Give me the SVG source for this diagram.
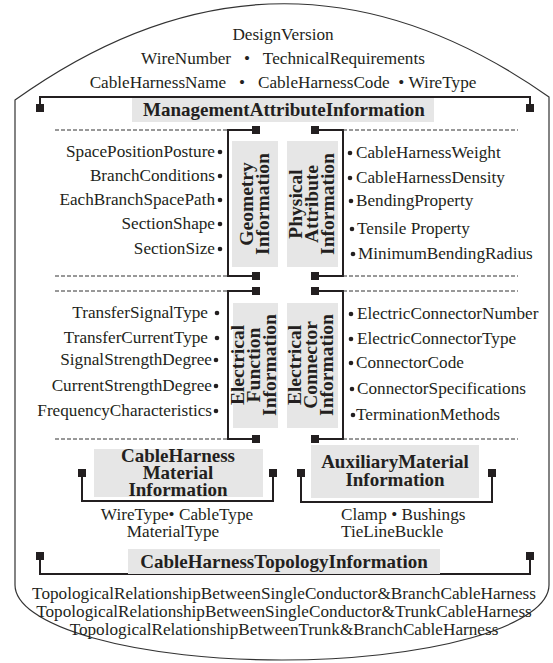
<svg xmlns="http://www.w3.org/2000/svg" width="553" height="663" viewBox="0 0 553 663">
<style>
.t{font-family:"Liberation Serif","Times New Roman",serif;font-size:17.2px;fill:#231f20}
.b{font-family:"Liberation Serif","Times New Roman",serif;font-size:19px;font-weight:bold;fill:#231f20}
.v{font-family:"Liberation Serif","Times New Roman",serif;font-size:19.5px;font-weight:bold;fill:#231f20}
.m{text-anchor:middle}
.e{text-anchor:end}
.box{fill:#e6e6e6}
.ln{fill:none;stroke:#231f20;stroke-width:2}
.da{fill:none;stroke:#333;stroke-width:1;stroke-dasharray:4 2}
.sq{fill:#231f20}
.dot{fill:#231f20}
.out{fill:none;stroke:#333;stroke-width:1.2}
</style>
<defs>
<rect id="sq" class="sq" x="-4" y="-4" width="8" height="8"/>
<circle id="dot" class="dot" r="2.3"/>
</defs>

<g id="outline">
<path class="out" d="M15,100 L15,585 A267,75 0 0 0 549,585 L549,97 Q282,-91 15,100 Z"/>
</g>

<g id="connectors">
<path class="ln" d="M40,108 V97 H530 V108"/>
<use href="#sq" x="40" y="108"/><use href="#sq" x="530" y="108"/>
<path class="ln" d="M256,130 H228 V276 H256"/>
<use href="#sq" x="256" y="130"/><use href="#sq" x="256" y="276"/>
<path class="ln" d="M315,130 H343 V276 H315"/>
<use href="#sq" x="315" y="130"/><use href="#sq" x="315" y="276"/>
<path class="ln" d="M256,291 H228 V439 H256"/>
<use href="#sq" x="256" y="291"/><use href="#sq" x="256" y="439"/>
<path class="ln" d="M315,291 H343 V439 H315"/>
<use href="#sq" x="315" y="291"/><use href="#sq" x="315" y="439"/>
<path class="da" d="M55,130 H228 M343,130 H518 M55,276 H228 M343,276 H518 M55,291 H228 M343,291 H518 M55,439 H228 M343,439 H518"/>
<path class="ln" d="M82,473 V501 H273 V473"/>
<use href="#sq" x="82" y="473"/><use href="#sq" x="273" y="473"/>
<path class="ln" d="M301,473 V502 H492 V473"/>
<use href="#sq" x="301" y="473"/><use href="#sq" x="492" y="473"/>
<path class="ln" d="M40,556 V574 H530 V556"/>
<use href="#sq" x="40" y="556"/><use href="#sq" x="530" y="556"/>
</g>

<g id="management">
<text class="t m" x="283" y="40">DesignVersion</text>
<text class="t m" x="283" y="64">WireNumber&#160;&#160;&#160;•&#160;&#160;&#160;TechnicalRequirements</text>
<text class="t m" x="283" y="88">CableHarnessName&#160;&#160;&#160;•&#160;&#160;&#160;CableHarnessCode&#160;&#160;•&#160;WireType</text>
<rect class="box" x="132" y="98" width="302" height="24"/>
<text class="b m" x="284" y="116">ManagementAttributeInformation</text>
</g>

<g id="geometry">
<rect class="box" x="232" y="141" width="46" height="126"/>
<text class="v m" transform="translate(253,204) rotate(-90)"><tspan x="0" y="0">Geometry</tspan><tspan x="0" y="16">Information</tspan></text>
<text class="t e" x="215" y="157">SpacePositionPosture</text>
<text class="t e" x="215" y="181">BranchConditions</text>
<text class="t e" x="215" y="205">EachBranchSpacePath</text>
<text class="t e" x="215" y="229">SectionShape</text>
<text class="t e" x="215" y="254">SectionSize</text>
<use href="#dot" x="220" y="152"/><use href="#dot" x="220" y="176"/><use href="#dot" x="220" y="200"/><use href="#dot" x="220" y="224"/><use href="#dot" x="220" y="249"/>
</g>

<g id="physical">
<rect class="box" x="287" y="141" width="51" height="126"/>
<text class="v m" transform="translate(302,204) rotate(-90)"><tspan x="0" y="0">Physical</tspan><tspan x="0" y="16">Attribute</tspan><tspan x="0" y="32">Information</tspan></text>
<use href="#dot" x="350" y="153"/><use href="#dot" x="350" y="178"/><use href="#dot" x="351" y="201"/><use href="#dot" x="352" y="229"/><use href="#dot" x="353" y="254"/>
<text class="t" x="356" y="158">CableHarnessWeight</text>
<text class="t" x="356" y="183">CableHarnessDensity</text>
<text class="t" x="356" y="206">BendingProperty</text>
<text class="t" x="357" y="234">Tensile Property</text>
<text class="t" x="358" y="259">MinimumBendingRadius</text>
</g>

<g id="electrical-function">
<rect class="box" x="233" y="303" width="45" height="125"/>
<text class="v m" transform="translate(244,365) rotate(-90)"><tspan x="0" y="0">Electrical</tspan><tspan x="0" y="16">Function</tspan><tspan x="0" y="32">Information</tspan></text>
<text class="t e" x="208" y="318">TransferSignalType</text>
<text class="t e" x="208" y="343">TransferCurrentType</text>
<text class="t e" x="212" y="365">SignalStrengthDegree</text>
<text class="t e" x="212" y="391">CurrentStrengthDegree</text>
<text class="t e" x="212" y="416">FrequencyCharacteristics</text>
<use href="#dot" x="217" y="313"/><use href="#dot" x="217" y="338"/><use href="#dot" x="216" y="360"/><use href="#dot" x="216" y="386"/><use href="#dot" x="216" y="411"/>
</g>

<g id="electrical-connector">
<rect class="box" x="287" y="303" width="51" height="125"/>
<text class="v m" transform="translate(301,365) rotate(-90)"><tspan x="0" y="0">Electrical</tspan><tspan x="0" y="16">Connector</tspan><tspan x="0" y="32">Information</tspan></text>
<use href="#dot" x="351" y="314"/><use href="#dot" x="351" y="339"/><use href="#dot" x="351" y="363"/><use href="#dot" x="352" y="389"/><use href="#dot" x="353" y="415"/>
<text class="t" x="357" y="319">ElectricConnectorNumber</text>
<text class="t" x="357" y="344">ElectricConnectorType</text>
<text class="t" x="356" y="368">ConnectorCode</text>
<text class="t" x="357" y="394">ConnectorSpecifications</text>
<text class="t" x="356" y="420">TerminationMethods</text>
</g>

<g id="material">
<rect class="box" x="94" y="449" width="169" height="48"/>
<text class="b m"><tspan x="178" y="462">CableHarness</tspan><tspan x="178" y="479">Material</tspan><tspan x="178" y="496">Information</tspan></text>
<text class="t m"><tspan x="177" y="520">WireType• CableType</tspan><tspan x="173" y="537">MaterialType</tspan></text>
</g>

<g id="auxiliary">
<rect class="box" x="311" y="445" width="168" height="53"/>
<text class="b m"><tspan x="395" y="468">AuxiliaryMaterial</tspan><tspan x="395" y="486">Information</tspan></text>
<text class="t"><tspan x="341" y="520">Clamp • Bushings</tspan><tspan x="341" y="537">TieLineBuckle</tspan></text>
</g>

<g id="topology">
<rect class="box" x="128" y="549" width="312" height="25"/>
<text class="b m" x="284" y="568">CableHarnessTopologyInformation</text>
<text class="t m"><tspan x="284" y="599">TopologicalRelationshipBetweenSingleConductor&amp;BranchCableHarness</tspan><tspan x="284" y="617">TopologicalRelationshipBetweenSingleConductor&amp;TrunkCableHarness</tspan><tspan x="284" y="635">TopologicalRelationshipBetweenTrunk&amp;BranchCableHarness</tspan></text>
</g>
</svg>
